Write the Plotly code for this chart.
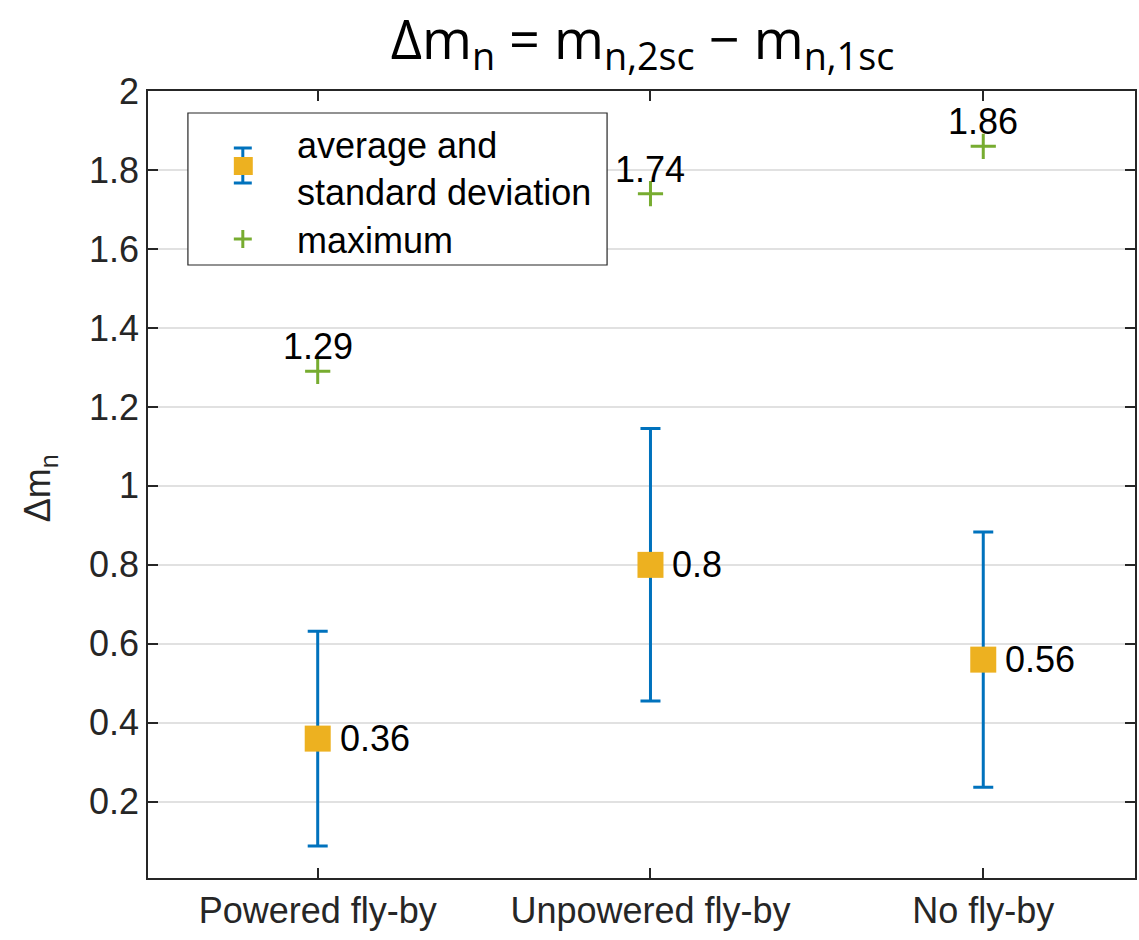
import plotly.graph_objects as go

# Scenario categories and statistics of the mass difference
categories = ["Powered fly-by", "Unpowered fly-by", "No fly-by"]
average = [0.36, 0.80, 0.56]
std_dev = [0.272, 0.345, 0.323]
maximum = [1.29, 1.74, 1.86]
y_ticks = [0.2, 0.4, 0.6, 0.8, 1.0, 1.2, 1.4, 1.6, 1.8, 2.0]
y_tick_text = ["0.2", "0.4", "0.6", "0.8", "1", "1.2", "1.4", "1.6", "1.8", "2"]

BLUE = "#0072BD"
ORANGE = "#EDB120"
GREEN = "#77AC30"
AX = "#262626"
FONT = "Liberation Sans, Arial, sans-serif"
TITLE_FONT = "Open Sans, Noto Sans, sans-serif"
FS = 36

W, H = 1139, 940
L, R, T, B = 148, 2, 91, 62
x_pos = [1, 2, 3]

fig = go.Figure()

# average with standard deviation error bars
fig.add_trace(go.Scatter(
    x=x_pos, y=average, mode="markers",
    marker=dict(symbol="square", size=26, color=ORANGE),
    error_y=dict(type="data", array=std_dev, visible=True,
                 color=BLUE, thickness=3, width=10),
    showlegend=False, cliponaxis=False,
))

# maxima
fig.add_trace(go.Scatter(
    x=x_pos, y=maximum, mode="markers",
    marker=dict(symbol="cross-thin", size=18, line=dict(color=GREEN, width=3)),
    showlegend=False, cliponaxis=False,
))

annotations = []
# value labels next to the averages and above the maxima
for xv, v in zip(x_pos, average):
    annotations.append(dict(
        x=xv, y=v, xref="x", yref="y", text=f"{v:g}", showarrow=False,
        xanchor="left", yanchor="middle", xshift=20,
        font=dict(size=FS, color="black", family=FONT)))
for xv, v in zip(x_pos, maximum):
    annotations.append(dict(
        x=xv, y=v, xref="x", yref="y", text=f"{v:g}", showarrow=False,
        xanchor="center", yanchor="bottom", yshift=2,
        font=dict(size=FS, color="black", family=FONT)))

# manual legend box (pixel helpers -> paper coordinates)
pw, ph = W - L - R, H - T - B
def px(x):
    return (x - L) / pw
def py(y):
    return (H - B - y) / ph

shapes = [
    dict(type="rect", xref="paper", yref="paper",
         x0=px(188), x1=px(608), y0=py(265), y1=py(113),
         line=dict(color=AX, width=1.2), fillcolor="white", layer="above"),
    # errorbar icon
    dict(type="line", xref="paper", yref="paper", x0=px(243), x1=px(243),
         y0=py(148), y1=py(183), line=dict(color=BLUE, width=3), layer="above"),
    dict(type="line", xref="paper", yref="paper", x0=px(234), x1=px(252),
         y0=py(148), y1=py(148), line=dict(color=BLUE, width=3), layer="above"),
    dict(type="line", xref="paper", yref="paper", x0=px(234), x1=px(252),
         y0=py(183), y1=py(183), line=dict(color=BLUE, width=3), layer="above"),
    dict(type="rect", xref="paper", yref="paper", x0=px(234), x1=px(253),
         y0=py(175), y1=py(157), line=dict(width=0), fillcolor=ORANGE, layer="above"),
    # maximum icon
    dict(type="line", xref="paper", yref="paper", x0=px(234), x1=px(252),
         y0=py(239), y1=py(239), line=dict(color=GREEN, width=3), layer="above"),
    dict(type="line", xref="paper", yref="paper", x0=px(243), x1=px(243),
         y0=py(230), y1=py(248), line=dict(color=GREEN, width=3), layer="above"),
]

legend_labels = [("average and", 145), ("standard deviation", 192), ("maximum", 240)]
for t, yy in legend_labels:
    annotations.append(dict(
        text=t, xref="paper", yref="paper", x=px(295), y=py(yy),
        xanchor="left", yanchor="middle", showarrow=False,
        font=dict(size=FS, color="black", family=FONT)))

annotations.append(dict(
    text="Δm<sub>n</sub>", xref="paper", yref="paper", x=px(40), y=py(488),
    xanchor="center", yanchor="middle", textangle=-90, showarrow=False,
    font=dict(size=FS, color=AX, family=FONT)))

fig.update_layout(
    width=W, height=H,
    margin=dict(l=L, r=R, t=T, b=B),
    paper_bgcolor="white", plot_bgcolor="white",
    font=dict(family=FONT, color=AX, size=FS),
    title=dict(text="Δm<sub>n</sub> = m<sub>n,2sc</sub> − m<sub>n,1sc</sub>",
               x=(L + W - R) / 2 / W, xanchor="center", y=1 - 40 / H, yanchor="middle",
               font=dict(size=54, color="black", family=TITLE_FONT)),
    shapes=shapes, annotations=annotations,
    xaxis=dict(range=[0.49, 3.456], tickvals=x_pos, ticktext=categories,
               showgrid=False, zeroline=False, showline=True, linecolor=AX, linewidth=1.5,
               mirror="ticks", ticks="inside", ticklen=10, tickcolor=AX, tickwidth=1.5,
               tickfont=dict(size=FS, color=AX)),
    yaxis=dict(range=[0.007, 2.0], tickvals=y_ticks, ticktext=y_tick_text,
               showgrid=True, gridcolor="#e1e1e1", gridwidth=1.5, zeroline=False,
               showline=True, linecolor=AX, linewidth=1.5,
               mirror="ticks", ticks="inside", ticklen=10, tickcolor=AX, tickwidth=1.5,
               tickfont=dict(size=FS, color=AX)),
)

fig.write_html("out.html")
